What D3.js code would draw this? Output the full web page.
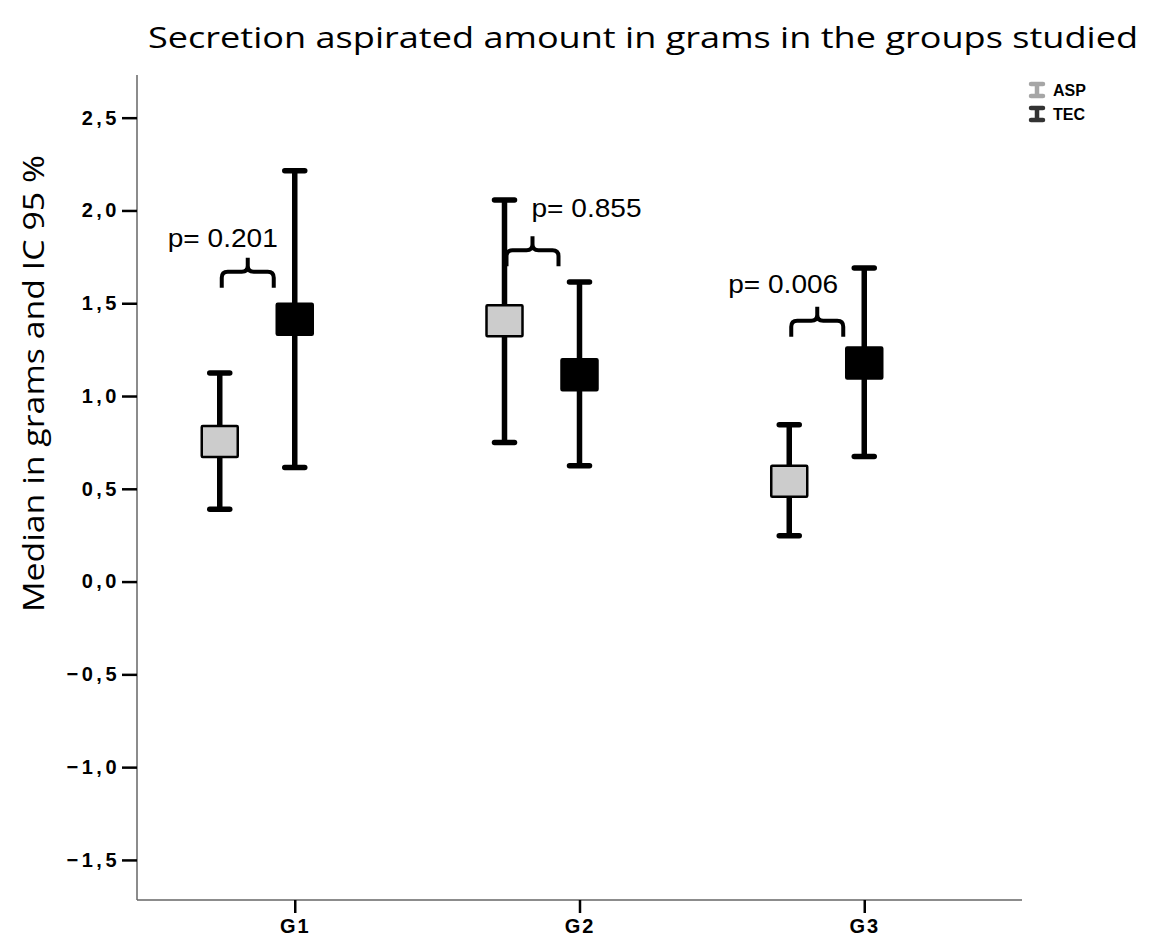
<!DOCTYPE html>
<html>
<head>
<meta charset="utf-8">
<script src="https://cdn.jsdelivr.net/npm/d3@7"></script>
<style>
  body { margin: 0; background: #fff; }
  svg { display: block; }
</style>
</head>
<body>
<svg id="chart" width="1149" height="937"></svg>
<script>
const width = 1149, height = 937;

const groups = ["G1", "G2", "G3"];
const series = ["ASP", "TEC"];
// median and 95% CI per group
const aspMedian = [0.755, 1.406, 0.541];
const aspLow = [0.39, 0.75, 0.247];
const aspHigh = [1.124, 2.057, 0.845];
const tecMedian = [1.414, 1.115, 1.178];
const tecLow = [0.615, 0.624, 0.674];
const tecHigh = [2.214, 1.614, 1.69];
const pValues = ["p= 0.201", "p= 0.855", "p= 0.006"];
const bracketLevel = [1.67, 1.785, 1.405];
const pLabelLevel = [1.805, 1.966, 1.557];
const yTicks = [-1.5, -1, -0.5, 0, 0.5, 1, 1.5, 2, 2.5];

// layout bits for the annotations (pixels)
const pLabelShift = [-72, 7, -81];
const fills = { ASP: "#cccccc", TEC: "#000000" };
const legendColors = { ASP: "#a6a6a6", TEC: "#333333" };

const svg = d3.select("#chart");

const x = d3.scalePoint().domain(groups).range([137, 1022]).padding(0.554);
const dx = d3.scalePoint().domain(series).range([-75, 0]);
const y = d3.scaleLinear().domain([-1.716, 2.73]).range([900, 75]);

const rows = [];
groups.forEach((g, i) => {
  rows.push({ g, s: "ASP", m: aspMedian[i], lo: aspLow[i], hi: aspHigh[i] });
  rows.push({ g, s: "TEC", m: tecMedian[i], lo: tecLow[i], hi: tecHigh[i] });
});

// title
svg.append("text")
  .attr("x", 148).attr("y", 48)
  .attr("textLength", 990).attr("lengthAdjust", "spacingAndGlyphs")
  .style("font-family", "'Open Sans', sans-serif")
  .style("font-size", "30px")
  .attr("fill", "#000")
  .text("Secretion aspirated amount in grams in the groups studied");

// y label
svg.append("text")
  .attr("transform", "translate(44,612) rotate(-90)")
  .attr("textLength", 457).attr("lengthAdjust", "spacingAndGlyphs")
  .style("font-family", "'Open Sans', sans-serif")
  .style("font-size", "30px")
  .text("Median  in grams and IC 95 %");

// axes
const yAxis = svg.append("g")
  .attr("transform", "translate(137,0)")
  .call(d3.axisLeft(y).tickValues(yTicks).tickSize(15).tickPadding(2)
    .tickFormat(d => d3.format(".1f")(d).replace(".", ",")));
yAxis.select(".domain").attr("stroke", "#666").attr("stroke-width", 1.5)
  .attr("d", `M0,${y.range()[1]}V${y.range()[0]}`);
yAxis.selectAll(".tick line").attr("stroke", "#000").attr("stroke-width", 2.5);
yAxis.selectAll(".tick text")
  .attr("font-family", null).attr("font-size", null)
  .style("font-family", "'Liberation Sans', Arial, sans-serif")
  .style("font-size", "20px").style("font-weight", "bold")
  .style("letter-spacing", "3.5px").attr("fill", "#000");

const xAxis = svg.append("g")
  .attr("transform", "translate(0,900)")
  .call(d3.axisBottom(x).tickSize(13).tickPadding(6));
xAxis.select(".domain").attr("stroke", "#666").attr("stroke-width", 1.5)
  .attr("d", `M137,0H1022`);
xAxis.selectAll(".tick line").attr("stroke", "#000").attr("stroke-width", 2.5);
xAxis.selectAll(".tick text")
  .style("font-family", "'Liberation Sans', Arial, sans-serif")
  .style("font-size", "20px").style("font-weight", "bold")
  .style("letter-spacing", "2px").attr("fill", "#000");

// error bars
const bars = svg.append("g").selectAll("g")
  .data(rows).enter().append("g")
  .attr("transform", d => `translate(${x(d.g) + dx(d.s)},0)`);

bars.append("line")
  .attr("y1", d => y(d.hi)).attr("y2", d => y(d.lo))
  .attr("stroke", "#000").attr("stroke-width", 5.5);

bars.selectAll(".cap")
  .data(d => [d.hi, d.lo]).enter().append("line")
  .attr("class", "cap")
  .attr("x1", -10).attr("x2", 10)
  .attr("y1", v => y(v)).attr("y2", v => y(v))
  .attr("stroke", "#000").attr("stroke-width", 5.5)
  .attr("stroke-linecap", "round");

bars.append("rect")
  .attr("x", -18).attr("width", 36)
  .attr("y", d => y(d.m) - 15.5).attr("height", 31)
  .attr("fill", d => fills[d.s])
  .attr("stroke", "#000").attr("stroke-width", 2.5)
  .attr("rx", 1);

// curly brackets with p values
groups.forEach((g, i) => {
  const x0 = x(g) + dx("ASP") + 2;
  const x1 = x(g) + dx("TEC") - 21;
  const cx = (x0 + x1) / 2;
  const ty = y(bracketLevel[i]);
  const r = 6;
  const path = `M${x0},${ty + 16}L${x0},${ty + r}Q${x0},${ty} ${x0 + r},${ty}` +
    `L${cx - r},${ty}Q${cx},${ty} ${cx},${ty - r}L${cx},${ty - 14}` +
    `M${cx},${ty - r}Q${cx},${ty} ${cx + r},${ty}` +
    `L${x1 - r},${ty}Q${x1},${ty} ${x1},${ty + r}L${x1},${ty + 16}`;
  svg.append("path").attr("d", path)
    .attr("fill", "none").attr("stroke", "#000")
    .attr("stroke-width", 4).attr("stroke-linecap", "butt");

  svg.append("text")
    .attr("x", x(g) + pLabelShift[i]).attr("y", y(pLabelLevel[i]))
    .attr("text-anchor", "middle")
    .attr("textLength", 110).attr("lengthAdjust", "spacingAndGlyphs")
    .style("font-family", "'Liberation Sans', Arial, sans-serif")
    .style("font-size", "25px")
    .text(pValues[i]);
});

// legend
const legend = svg.append("g").attr("transform", "translate(1037,90)");
const item = legend.selectAll("g").data(series).enter().append("g")
  .attr("transform", (d, i) => `translate(0,${i * 24})`);
item.append("path")
  .attr("d", "M-6,-6H6M0,-6V6M-6,6H6")
  .attr("stroke", d => legendColors[d]).attr("stroke-width", 4.5)
  .attr("stroke-linecap", "round").attr("fill", "none");
item.append("text")
  .attr("x", 16).attr("y", 6)
  .style("font-family", "'Liberation Sans', Arial, sans-serif")
  .style("font-size", "16px").style("font-weight", "bold")
  .text(d => d);
</script>
</body>
</html>
